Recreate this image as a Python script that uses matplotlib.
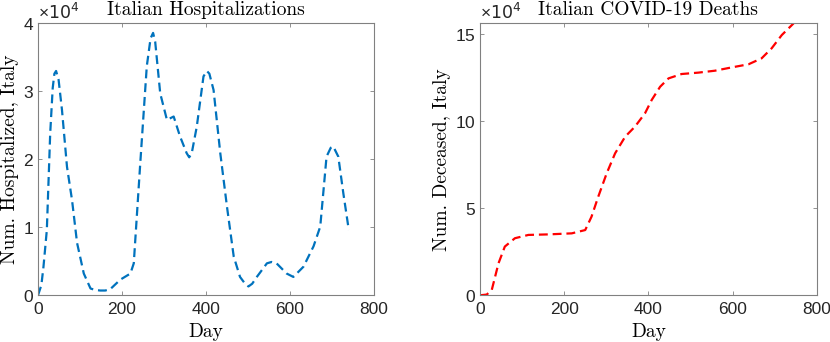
import numpy as np
import matplotlib
matplotlib.use("Agg")
import matplotlib.pyplot as plt

plt.rcParams['mathtext.fontset'] = 'custom'
plt.rcParams['mathtext.rm'] = 'Liberation Sans'

# hospitalized
hosp_day = [0, 8, 13, 21, 29, 35, 39, 43, 49, 57, 69, 81, 93, 109, 125, 135, 148,
            160, 172, 196, 220, 228, 243, 259, 268, 274, 279, 285, 291, 307, 323,
            338, 354, 360, 366, 378, 394, 402, 408, 418, 434, 450, 466, 481, 493,
            501, 510, 521, 545, 556, 568, 592, 608, 632, 656, 672, 687, 697, 703,
            715, 727, 740]
hosp = [0, 1500, 4200, 9600, 23800, 30500, 32600, 33000, 31700, 27300, 18900,
        14000, 7700, 3200, 1000, 800, 700, 700, 900, 2300, 3200, 4700, 19000,
        33700, 37800, 38600, 37300, 33500, 29700, 25800, 26300, 23400, 20900,
        20300, 20900, 24800, 32200, 33000, 32600, 30200, 20900, 13000, 5700,
        2700, 1700, 1300, 1700, 2700, 4700, 4900, 4700, 3200, 2700, 4200, 7200,
        10100, 20400, 21700, 21900, 20400, 15000, 9600]

# deceased
dead_day = [0, 16, 28, 44, 59, 83, 115, 162, 218, 250, 265, 281, 301, 321, 345,
            368, 392, 408, 428, 448, 479, 519, 558, 598, 638, 669, 693, 717, 745]
dead = [0, 400, 3100, 18400, 28000, 32800, 34700, 35000, 35600, 37500, 45200,
        56700, 70100, 81600, 91200, 96900, 104600, 112300, 119900, 124700, 127200,
        128000, 129100, 131000, 132800, 136200, 142000, 149600, 156300]

fig = plt.figure(figsize=(8.3, 3.42), dpi=100)
ax1 = fig.add_axes([0.0458, 0.1366, 0.4048, 0.795])
ax2 = fig.add_axes([0.5783, 0.1366, 0.4057, 0.795])

ax1.plot(hosp_day, hosp, color='#0072BD', lw=1.6, ls=(0, (4, 2.2)))
ax2.plot(dead_day, dead, color='red', lw=1.6, ls=(0, (4, 2.2)))

ax1.set_xlim(0, 800)
ax1.set_ylim(0, 40000)
ax1.set_yticks([0, 10000, 20000, 30000, 40000])
ax2.set_xlim(0, 800)
ax2.set_ylim(0, max(dead))
ax2.set_yticks([0, 50000, 100000, 150000])

for ax in (ax1, ax2):
    ax.set_xticks([0, 200, 400, 600, 800])
    ax.ticklabel_format(axis='y', style='sci', scilimits=(4, 4), useMathText=True)
    ax.tick_params(direction='in', top=True, right=True, length=3, width=0.6,
                   color='#808080', labelcolor='#262626', labelsize=12.5)
    ax.tick_params(axis='x', pad=5)
    ax.tick_params(axis='y', pad=3)
    for lbl in ax.get_xticklabels() + ax.get_yticklabels():
        lbl.set_fontfamily('Liberation Sans')
    ax.yaxis.get_offset_text().set_fontsize(12.5)
    ax.yaxis.get_offset_text().set_color('#262626')
    for s in ax.spines.values():
        s.set_color('#808080')
        s.set_linewidth(0.8)

ax1.set_title('Italian Hospitalizations', fontfamily='cmr10', fontsize=14, pad=6)
ax1.set_xlabel('Day', fontfamily='cmr10', fontsize=14, labelpad=4)
ax1.set_ylabel('Num. Hospitalized, Italy', fontfamily='cmr10', fontsize=14, labelpad=3)
ax2.set_title('Italian COVID-19 Deaths', fontfamily='cmr10', fontsize=14, pad=6)
ax2.set_xlabel('Day', fontfamily='cmr10', fontsize=14, labelpad=4)
ax2.set_ylabel('Num. Deceased, Italy', fontfamily='cmr10', fontsize=14, labelpad=3)

fig.savefig('out.png', dpi=100)
